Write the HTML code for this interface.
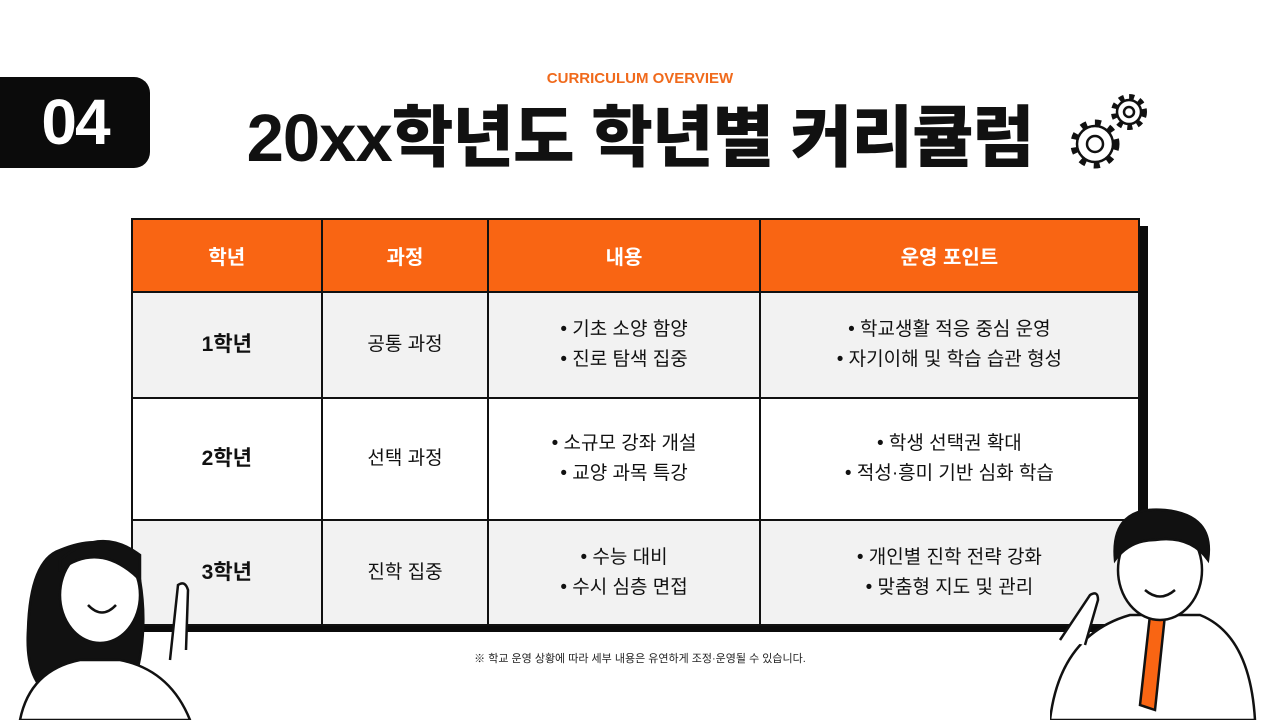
<!DOCTYPE html>
<html><head><meta charset="utf-8"><style>
*{margin:0;padding:0;box-sizing:border-box}
body{width:1280px;height:720px;background:#fff;position:relative;overflow:hidden;font-family:"Liberation Sans","Noto Sans CJK KR",sans-serif;color:#111}
.badge{position:absolute;left:0;top:77px;width:150px;height:91px;background:#0b0b0b;border-radius:0 16px 16px 0;color:#fff;font-size:64px;font-weight:900;text-align:center;line-height:91px;letter-spacing:-2px}
.sub{position:absolute;left:0;width:1280px;top:70px;text-align:center;color:#f06a1c;font-size:15px;font-weight:bold}
.title{position:absolute;left:0;width:1280px;top:101px;text-align:center;font-size:67px;font-weight:900;letter-spacing:-1px;line-height:76px}
.shadow{position:absolute;left:139px;top:226px;width:1009px;height:406px;background:#0b0b0b}
table{position:absolute;left:131px;top:218px;width:1009px;height:406px;border-collapse:collapse;font-size:19px;text-align:center}
td,th{border:2.5px solid #111}
th{background:#f96513;color:#fff;font-weight:bold;height:73px;font-size:20px}
tr.g td{background:#f2f2f2}
tr.w td{background:#fff}
td.y{font-weight:bold;font-size:21px}
td{line-height:30px}
.note{position:absolute;left:0;width:1280px;top:650px;text-align:center;font-size:11px;color:#222}
</style></head><body>
<div class="badge">04</div>
<div class="sub">CURRICULUM OVERVIEW</div>
<div class="title">20xx학년도 학년별 커리큘럼</div>
<svg style="position:absolute;left:1060px;top:88px" width="95" height="95" viewBox="0 0 95 95" fill="none" stroke="#111" stroke-width="2.5">
<circle cx="35" cy="56" r="18"/><circle cx="35" cy="56" r="8"/>
<g stroke-dasharray="6 8.1" stroke-width="7"><circle cx="35" cy="56" r="21"/></g>
<circle cx="69" cy="24" r="12"/><circle cx="69" cy="24" r="5"/>
<g stroke-dasharray="5 5.1" stroke-width="6"><circle cx="69" cy="24" r="15"/></g>
</svg>
<div class="shadow"></div>
<table>
<colgroup><col style="width:190px"><col style="width:167px"><col style="width:272px"><col style="width:380px"></colgroup>
<tr><th>학년</th><th>과정</th><th>내용</th><th>운영 포인트</th></tr>
<tr class="g" style="height:106px"><td class="y">1학년</td><td>공통 과정</td><td>• 기초 소양 함양<br>• 진로 탐색 집중</td><td>• 학교생활 적응 중심 운영<br>• 자기이해 및 학습 습관 형성</td></tr>
<tr class="w" style="height:122px"><td class="y">2학년</td><td>선택 과정</td><td>• 소규모 강좌 개설<br>• 교양 과목 특강</td><td>• 학생 선택권 확대<br>• 적성·흥미 기반 심화 학습</td></tr>
<tr class="g" style="height:105px"><td class="y">3학년</td><td>진학 집중</td><td>• 수능 대비<br>• 수시 심층 면접</td><td>• 개인별 진학 전략 강화<br>• 맞춤형 지도 및 관리</td></tr>
</table>
<div class="note">※ 학교 운영 상황에 따라 세부 내용은 유연하게 조정·운영될 수 있습니다.</div>
<svg style="position:absolute;left:0;top:520px" width="210" height="200" viewBox="0 0 210 200" stroke="#111" stroke-width="2.5">
<path d="M60 30 Q30 40 28 110 Q25 160 50 175 L130 175 Q150 120 140 60 Q120 5 60 30Z" fill="#111"/>
<ellipse cx="100" cy="75" rx="40" ry="48" fill="#fff"/>
<path d="M60 50 Q100 20 140 60 L140 35 Q100 5 60 40Z" fill="#111"/>
<path d="M20 200 Q30 150 80 140 L120 140 Q170 150 190 200Z" fill="#fff"/>
<path d="M88 85 Q102 100 116 85" fill="none"/>
<path d="M170 140 L178 65 Q185 60 188 70 L186 130" fill="#fff"/>
</svg>
<svg style="position:absolute;left:1050px;top:505px" width="230" height="215" viewBox="0 0 230 215" stroke="#111" stroke-width="2.5">
<path d="M0 215 Q10 130 80 110 L150 110 Q200 130 205 215Z" fill="#fff"/>
<path d="M100 110 L90 200 L105 205 L115 110Z" fill="#f96513"/>
<ellipse cx="110" cy="65" rx="42" ry="50" fill="#fff"/>
<path d="M65 55 Q60 0 115 5 Q165 10 158 55 Q140 30 105 35 Q80 35 65 55Z" fill="#111"/>
<path d="M95 85 Q110 98 125 85" fill="none"/>
<path d="M10 135 L40 90 Q48 85 48 95 L35 140" fill="#fff"/>
</svg>
</body></html>
